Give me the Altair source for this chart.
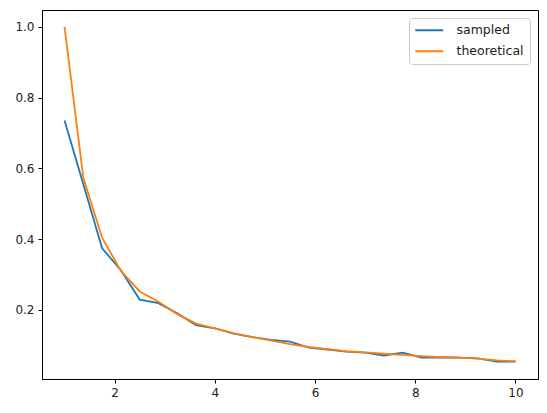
import altair as alt
import pandas as pd

x_vals = [1.0, 1.375, 1.75, 2.125, 2.5, 2.875, 3.25, 3.625, 4.0, 4.375, 4.75, 5.125, 5.5,
          5.875, 6.25, 6.625, 7.0, 7.375, 7.75, 8.125, 8.5, 8.875, 9.25, 9.625, 10.0]
sampled = [0.735, 0.555, 0.374, 0.312, 0.229, 0.219, 0.190, 0.157, 0.148, 0.133, 0.123,
           0.115, 0.110, 0.093, 0.088, 0.082, 0.079, 0.071, 0.079, 0.065, 0.066, 0.065,
           0.063, 0.054, 0.054]
theoretical = [1.0, 0.573, 0.404, 0.310, 0.252, 0.223, 0.188, 0.161, 0.148, 0.134, 0.123,
               0.113, 0.103, 0.095, 0.089, 0.083, 0.080, 0.076, 0.073, 0.069, 0.066, 0.065,
               0.062, 0.057, 0.054]

rows = []
for x, s, t in zip(x_vals, sampled, theoretical):
    rows.append({"x": x, "y": s, "series": "sampled"})
    rows.append({"x": x, "y": t, "series": "theoretical"})
df = pd.DataFrame(rows)

chart = alt.Chart(df).mark_line(strokeWidth=1.8, clip=True).encode(
    x=alt.X("x:Q", scale=alt.Scale(domain=[0.55, 10.45], nice=False, zero=False),
            axis=alt.Axis(values=[2, 4, 6, 8, 10], title=None, grid=False, format="d",
                          domainColor="black", tickColor="black", tickSize=4,
                          labelFontSize=12, labelColor="#222", labelPadding=4,
                          labelFont="DejaVu Sans")),
    y=alt.Y("y:Q", scale=alt.Scale(domain=[0.0046, 1.0474], nice=False, zero=False),
            axis=alt.Axis(values=[0.2, 0.4, 0.6, 0.8, 1.0], title=None, grid=False, format=".1f",
                          domainColor="black", tickColor="black", tickSize=4,
                          labelFontSize=12, labelColor="#222", labelPadding=4,
                          labelFont="DejaVu Sans")),
    color=alt.Color("series:N",
                    scale=alt.Scale(domain=["sampled", "theoretical"], range=["#1f77b4", "#ff7f0e"]),
                    legend=alt.Legend(title=None, orient="top-right", offset=8,
                                      symbolType="M-1.2,0H4.4", symbolSize=100, symbolStrokeWidth=2,
                                      labelFontSize=12.5, labelFont="DejaVu Sans", labelColor="#222",
                                      fillColor="rgba(255,255,255,0.8)", strokeColor="#cccccc",
                                      cornerRadius=3, padding=6, rowPadding=8, labelOffset=29)),
).properties(
    width=496, height=369,
    autosize=alt.AutoSizeParams(type="none"),
    padding={"left": 34, "top": 2, "right": 1, "bottom": 26},
).configure_view(stroke="black", strokeWidth=1)

chart.save("out.html", embed_options={"renderer": "svg", "actions": False})
